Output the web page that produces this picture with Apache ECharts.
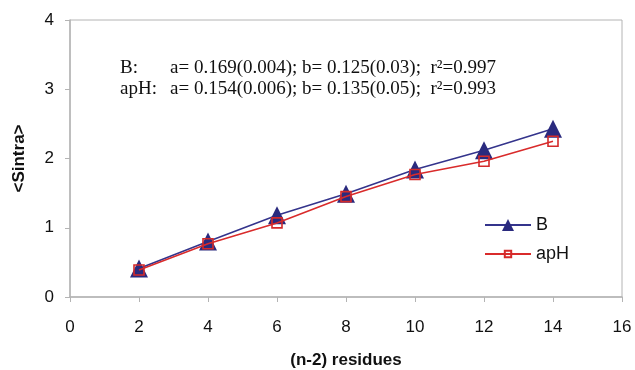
<!DOCTYPE html>
<html>
<head>
<meta charset="utf-8">
<script src="https://cdn.jsdelivr.net/npm/echarts@6/dist/echarts.min.js"></script>
<style>html,body{margin:0;padding:0;background:#fff}#c{width:635px;height:370px}</style>
</head>
<body>
<div id="c"></div>
<script>
const xValues = [2, 4, 6, 8, 10, 12, 14];
const seriesB = [0.41, 0.80, 1.18, 1.49, 1.84, 2.12, 2.43];
const seriesApH = [0.39, 0.77, 1.07, 1.45, 1.77, 1.96, 2.25];
const xTicks = [0, 2, 4, 6, 8, 10, 12, 14, 16];
const yTicks = [0, 1, 2, 3, 4];
const annotB = ['B:', 'a= 0.169(0.004); b= 0.125(0.03);  r\u00b2=0.997'];
const annotApH = ['apH:', 'a= 0.154(0.006); b= 0.135(0.05);  r\u00b2=0.993'];

const chart = echarts.init(document.getElementById('c'));
const axisGray = '#b4b4b4';
const serif = '"Liberation Serif", "DejaVu Serif", serif';
const sans = '"Liberation Sans", Arial, sans-serif';
const legendText = {fontFamily: sans, fontSize: 18, color: '#111'};
chart.setOption({
  animation: false,
  backgroundColor: '#fff',
  grid: {left: 70, right: 13, top: 20, bottom: 73, show: true, borderColor: axisGray, borderWidth: 1,
         containLabel: false, outerBoundsMode: 'none'},
  xAxis: {
    type: 'value', min: 0, max: 16, interval: 2,
    name: '(n-2) residues', nameLocation: 'middle', nameGap: 55,
    nameTextStyle: {fontFamily: sans, fontWeight: 'bold', fontSize: 17, color: '#111'},
    axisLine: {show: true, lineStyle: {color: axisGray, width: 1.5}},
    axisTick: {show: true, length: 5, inside: false, lineStyle: {color: axisGray}},
    axisLabel: {fontFamily: sans, fontSize: 17, color: '#111', margin: 22,
      formatter: v => xTicks.includes(v) ? String(v) : ''},
    splitLine: {show: false}
  },
  yAxis: {
    type: 'value', min: 0, max: 4, interval: 1,
    name: '<Sintra>', nameLocation: 'middle', nameGap: 42, nameRotate: 90,
    nameTextStyle: {fontFamily: sans, fontWeight: 'bold', fontSize: 17, color: '#111'},
    axisLine: {show: true, lineStyle: {color: axisGray, width: 1.5}},
    axisTick: {show: true, length: 5, lineStyle: {color: axisGray}},
    axisLabel: {fontFamily: sans, fontSize: 17, color: '#111', margin: 16,
      formatter: v => yTicks.includes(v) ? String(v) : ''},
    splitLine: {show: false}
  },
  legend: [
    {left: 479, top: 211, itemWidth: 46, itemHeight: 15, textStyle: legendText, data: ['B']},
    {left: 479, top: 240, itemWidth: 46, itemHeight: 8, textStyle: legendText, data: ['apH']}
  ],
  series: [
    {
      name: 'B', type: 'line', data: xValues.map((x, i) => [x, seriesB[i]]),
      symbol: 'triangle', symbolSize: 18, z: 2,
      lineStyle: {color: '#34348c', width: 1.6},
      itemStyle: {color: '#2a2a7e', borderColor: '#2a2a7e', borderWidth: 0}
    },
    {
      name: 'apH', type: 'line', data: xValues.map((x, i) => [x, seriesApH[i]]),
      symbol: 'rect', symbolSize: 10, z: 3,
      lineStyle: {color: '#d92b2b', width: 1.6},
      itemStyle: {color: 'rgba(255,255,255,0)', borderColor: '#d42a2a', borderWidth: 1.6}
    }
  ],
  graphic: [
    {type: 'text', left: 120, top: 59, style: {text: annotB[0], font: '19px ' + serif, fill: '#111'}},
    {type: 'text', left: 170, top: 59, style: {text: annotB[1], font: '19px ' + serif, fill: '#111'}},
    {type: 'text', left: 120, top: 80, style: {text: annotApH[0], font: '19px ' + serif, fill: '#111'}},
    {type: 'text', left: 170, top: 80, style: {text: annotApH[1], font: '19px ' + serif, fill: '#111'}}
  ]
});
</script>
</body>
</html>
